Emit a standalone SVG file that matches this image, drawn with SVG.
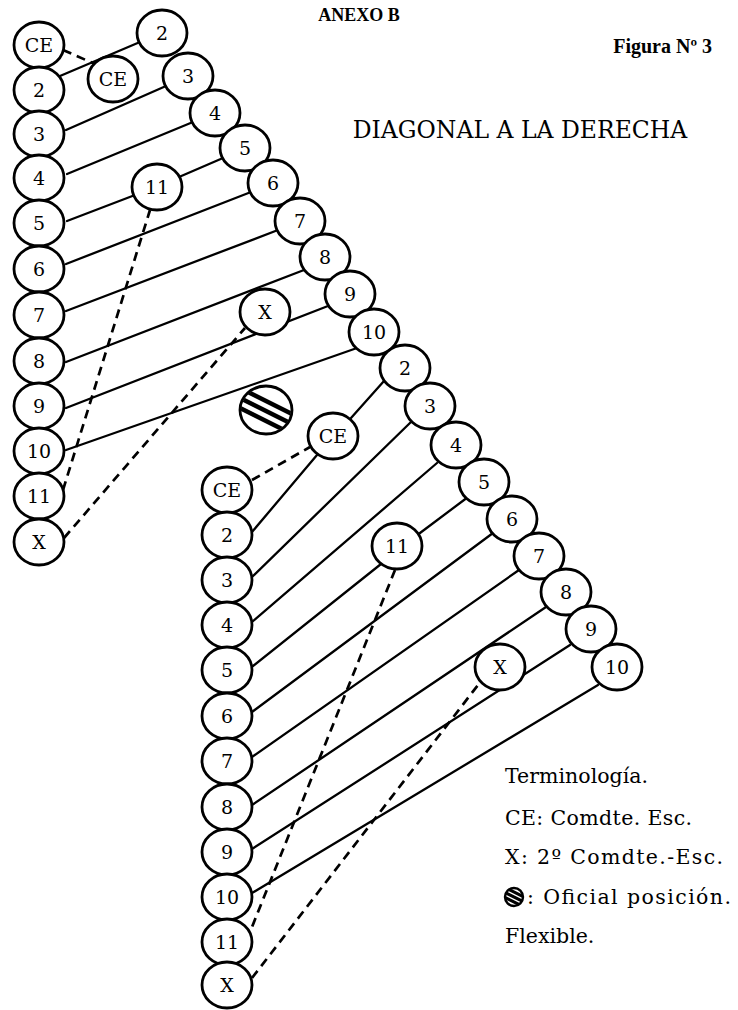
<svg xmlns="http://www.w3.org/2000/svg" width="738" height="1010" viewBox="0 0 738 1010">
<defs>
<style>
.n ellipse{fill:#fff;stroke:#000;stroke-width:2.8}
.n text{font-family:"DejaVu Serif","Liberation Serif",serif;font-size:19px;text-anchor:middle;fill:#000}
.s{stroke:#000;stroke-width:2.3;fill:none;stroke-linecap:round}
.d{stroke:#000;stroke-width:2.7;fill:none;stroke-dasharray:9 6}
.t{font-family:"DejaVu Serif","Liberation Serif",serif;fill:#000}
.tb{font-family:"Liberation Serif","DejaVu Serif",serif;font-weight:bold;fill:#000}
.hs{stroke:#000;stroke-width:4.5}
</style>
<clipPath id="hc"><ellipse cx="0" cy="0" rx="25" ry="23"/></clipPath>
<clipPath id="hc2"><circle cx="0" cy="0" r="9"/></clipPath>
</defs>
<rect width="738" height="1010" fill="#fff"/>
<g id="titles">
<text class="tb" x="359" y="21" font-size="18" text-anchor="middle">ANEXO B</text>
<text class="tb" x="712" y="53" font-size="20" text-anchor="end">Figura Nº  3</text>
<text class="t" x="520" y="138" font-size="23.5" text-anchor="middle">DIAGONAL A LA DERECHA</text>
</g>
<g id="connectors">
<line class="s" x1="60" y1="76" x2="140" y2="42"/>
<line class="d" x1="63" y1="50" x2="95" y2="64"/>
<line class="s" x1="66" y1="130" x2="166" y2="86"/>
<line class="s" x1="67" y1="174" x2="193" y2="122"/>
<line class="s" x1="67" y1="221" x2="135" y2="195"/>
<line class="s" x1="179" y1="177" x2="223" y2="158"/>
<line class="s" x1="66" y1="264" x2="251" y2="192"/>
<line class="s" x1="66" y1="311" x2="278" y2="230"/>
<line class="s" x1="66" y1="362" x2="304" y2="270"/>
<line class="s" x1="66" y1="408" x2="328" y2="306"/>
<line class="s" x1="66" y1="450" x2="357" y2="348"/>
<line class="s" x1="384" y1="381" x2="351" y2="418"/>
<line class="d" x1="64" y1="538" x2="245" y2="328"/>
<line class="d" x1="63" y1="490" x2="150" y2="210"/>
<line class="d" x1="252" y1="480" x2="310" y2="447"/>
<line class="s" x1="252" y1="532" x2="317" y2="455"/>
<line class="s" x1="252" y1="577" x2="412" y2="421"/>
<line class="s" x1="252" y1="622" x2="437" y2="463"/>
<line class="s" x1="253" y1="666" x2="381" y2="564"/>
<line class="s" x1="420" y1="533" x2="468" y2="497"/>
<line class="s" x1="252" y1="712" x2="493" y2="533"/>
<line class="s" x1="252" y1="757" x2="519" y2="570"/>
<line class="s" x1="252" y1="805" x2="546" y2="607"/>
<line class="s" x1="252" y1="849" x2="570" y2="645"/>
<line class="s" x1="252" y1="893" x2="598" y2="685"/>
<line class="d" x1="395" y1="570" x2="250" y2="932"/>
<line class="d" x1="252" y1="978" x2="478" y2="685"/>
</g>
<g id="top-left-column">
<g id="tl-CE" class="n"><ellipse cx="39" cy="45" rx="25" ry="23"/><text x="39" y="52">CE</text></g>
<g id="tl-2" class="n"><ellipse cx="39" cy="90" rx="25" ry="23"/><text x="39" y="97">2</text></g>
<g id="tl-3" class="n"><ellipse cx="39" cy="134" rx="25" ry="23"/><text x="39" y="141">3</text></g>
<g id="tl-4" class="n"><ellipse cx="39" cy="178" rx="25" ry="23"/><text x="39" y="185">4</text></g>
<g id="tl-5" class="n"><ellipse cx="39" cy="223" rx="25" ry="23"/><text x="39" y="230">5</text></g>
<g id="tl-6" class="n"><ellipse cx="39" cy="269" rx="25" ry="23"/><text x="39" y="276">6</text></g>
<g id="tl-7" class="n"><ellipse cx="39" cy="315" rx="25" ry="23"/><text x="39" y="322">7</text></g>
<g id="tl-8" class="n"><ellipse cx="39" cy="361" rx="25" ry="23"/><text x="39" y="368">8</text></g>
<g id="tl-9" class="n"><ellipse cx="39" cy="406" rx="25" ry="23"/><text x="39" y="413">9</text></g>
<g id="tl-10" class="n"><ellipse cx="39" cy="451" rx="25" ry="23"/><text x="39" y="458">10</text></g>
<g id="tl-11" class="n"><ellipse cx="39" cy="496" rx="25" ry="23"/><text x="39" y="503">11</text></g>
<g id="tl-X" class="n"><ellipse cx="39" cy="542" rx="25" ry="23"/><text x="39" y="549">X</text></g>
</g>
<g id="top-right-diagonal">
<g id="tr-2" class="n"><ellipse cx="162" cy="33" rx="25" ry="23"/><text x="162" y="40">2</text></g>
<g id="tr-3" class="n"><ellipse cx="188" cy="76" rx="25" ry="23"/><text x="188" y="83">3</text></g>
<g id="tr-4" class="n"><ellipse cx="215" cy="113" rx="25" ry="23"/><text x="215" y="120">4</text></g>
<g id="tr-5" class="n"><ellipse cx="245" cy="148" rx="25" ry="23"/><text x="245" y="155">5</text></g>
<g id="tr-6" class="n"><ellipse cx="273" cy="183" rx="25" ry="23"/><text x="273" y="190">6</text></g>
<g id="tr-7" class="n"><ellipse cx="300" cy="221" rx="25" ry="23"/><text x="300" y="228">7</text></g>
<g id="tr-8" class="n"><ellipse cx="325" cy="257" rx="25" ry="23"/><text x="325" y="264">8</text></g>
<g id="tr-9" class="n"><ellipse cx="350" cy="294" rx="25" ry="23"/><text x="350" y="301">9</text></g>
<g id="tr-10" class="n"><ellipse cx="374" cy="332" rx="25" ry="23"/><text x="374" y="339">10</text></g>
<g id="t-CE2" class="n"><ellipse cx="113" cy="79" rx="25" ry="23"/><text x="113" y="86">CE</text></g>
<g id="t-11" class="n"><ellipse cx="157" cy="187" rx="25" ry="23"/><text x="157" y="194">11</text></g>
<g id="t-X" class="n"><ellipse cx="265" cy="312" rx="25" ry="23"/><text x="265" y="319">X</text></g>
</g>
<g id="officer">
<g transform="translate(266,410)">
<ellipse cx="0" cy="0" rx="26" ry="24" fill="#fff"/>
<g clip-path="url(#hc)">
<line class="hs" x1="-30" y1="-24" x2="30" y2="6"/>
<line class="hs" x1="-30" y1="-14" x2="30" y2="16"/>
<line class="hs" x1="-30" y1="-4" x2="30" y2="26"/>
</g>
<ellipse cx="0" cy="0" rx="26" ry="24" fill="none" stroke="#000" stroke-width="2.8"/>
</g>
</g>
<g id="bottom-right-diagonal">
<g id="br-2" class="n"><ellipse cx="405" cy="368" rx="25" ry="23"/><text x="405" y="375">2</text></g>
<g id="br-3" class="n"><ellipse cx="430" cy="406" rx="25" ry="23"/><text x="430" y="413">3</text></g>
<g id="br-4" class="n"><ellipse cx="456" cy="445" rx="25" ry="23"/><text x="456" y="452">4</text></g>
<g id="br-5" class="n"><ellipse cx="484" cy="482" rx="25" ry="23"/><text x="484" y="489">5</text></g>
<g id="br-6" class="n"><ellipse cx="512" cy="519" rx="25" ry="23"/><text x="512" y="526">6</text></g>
<g id="br-7" class="n"><ellipse cx="539" cy="556" rx="25" ry="23"/><text x="539" y="563">7</text></g>
<g id="br-8" class="n"><ellipse cx="566" cy="592" rx="25" ry="23"/><text x="566" y="599">8</text></g>
<g id="br-9" class="n"><ellipse cx="591" cy="629" rx="25" ry="23"/><text x="591" y="636">9</text></g>
<g id="br-10" class="n"><ellipse cx="617" cy="667" rx="25" ry="23"/><text x="617" y="674">10</text></g>
<g id="b-CE2" class="n"><ellipse cx="333" cy="436" rx="25" ry="23"/><text x="333" y="443">CE</text></g>
<g id="b-11" class="n"><ellipse cx="397" cy="546" rx="25" ry="23"/><text x="397" y="553">11</text></g>
<g id="b-X" class="n"><ellipse cx="500" cy="667" rx="25" ry="23"/><text x="500" y="674">X</text></g>
</g>
<g id="bottom-left-column">
<g id="bl-CE" class="n"><ellipse cx="227" cy="490" rx="25" ry="23"/><text x="227" y="497">CE</text></g>
<g id="bl-2" class="n"><ellipse cx="227" cy="535" rx="25" ry="23"/><text x="227" y="542">2</text></g>
<g id="bl-3" class="n"><ellipse cx="227" cy="580" rx="25" ry="23"/><text x="227" y="587">3</text></g>
<g id="bl-4" class="n"><ellipse cx="227" cy="625" rx="25" ry="23"/><text x="227" y="632">4</text></g>
<g id="bl-5" class="n"><ellipse cx="227" cy="670" rx="25" ry="23"/><text x="227" y="677">5</text></g>
<g id="bl-6" class="n"><ellipse cx="227" cy="716" rx="25" ry="23"/><text x="227" y="723">6</text></g>
<g id="bl-7" class="n"><ellipse cx="227" cy="761" rx="25" ry="23"/><text x="227" y="768">7</text></g>
<g id="bl-8" class="n"><ellipse cx="227" cy="807" rx="25" ry="23"/><text x="227" y="814">8</text></g>
<g id="bl-9" class="n"><ellipse cx="227" cy="852" rx="25" ry="23"/><text x="227" y="859">9</text></g>
<g id="bl-10" class="n"><ellipse cx="227" cy="897" rx="25" ry="23"/><text x="227" y="904">10</text></g>
<g id="bl-11" class="n"><ellipse cx="227" cy="942" rx="25" ry="23"/><text x="227" y="949">11</text></g>
<g id="bl-X" class="n"><ellipse cx="227" cy="985" rx="25" ry="23"/><text x="227" y="992">X</text></g>
</g>
<g id="legend">
<text class="t" x="505" y="783" font-size="20.5" textLength="143" lengthAdjust="spacing">Terminología.</text>
<text class="t" x="505" y="825" font-size="20.5" textLength="187" lengthAdjust="spacing">CE: Comdte. Esc.</text>
<text class="t" x="505" y="864" font-size="20.5" textLength="218" lengthAdjust="spacing">X: 2º Comdte.-Esc.</text>
<g transform="translate(514,897)">
<circle cx="0" cy="0" r="9" fill="#fff"/>
<g clip-path="url(#hc2)">
<line stroke="#000" stroke-width="3" x1="-12" y1="-11" x2="12" y2="1"/>
<line stroke="#000" stroke-width="3" x1="-12" y1="-6" x2="12" y2="6"/>
<line stroke="#000" stroke-width="3" x1="-12" y1="-1" x2="12" y2="11"/>
</g>
<circle cx="0" cy="0" r="9" fill="none" stroke="#000" stroke-width="2.4"/>
</g>
<text class="t" x="527" y="904" font-size="20.5" textLength="204" lengthAdjust="spacing">: Oficial posición.</text>
<text class="t" x="505" y="943" font-size="20.5">Flexible.</text>
</g>
</svg>
